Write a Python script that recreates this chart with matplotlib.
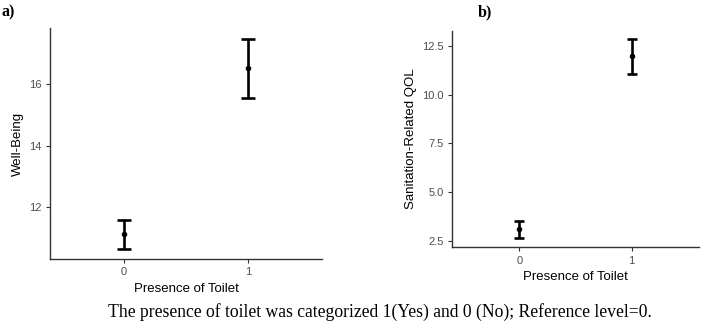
import matplotlib
matplotlib.use("Agg")
import matplotlib.pyplot as plt

categories = ["0", "1"]
wb_mean = [11.13, 16.52]
wb_low = [10.66, 15.55]
wb_high = [11.59, 17.47]
qol_mean = [3.09, 11.97]
qol_low = [2.65, 11.06]
qol_high = [3.53, 12.86]
wb_ticks = [12, 14, 16]
qol_ticks = [2.5, 5.0, 7.5, 10.0, 12.5]

fig = plt.figure(figsize=(7.02, 3.31), dpi=100)
sans = ["Liberation Sans", "DejaVu Sans"]
serif = ["Liberation Serif", "DejaVu Serif"]

def panel(rect, mean, low, high, ticks, ylim, ylabel, cap, fmt):
    ax = fig.add_axes(rect)
    x = list(range(len(categories)))
    yerr = [[m - l for m, l in zip(mean, low)], [h - m for m, h in zip(mean, high)]]
    ax.errorbar(x, mean, yerr=yerr, fmt="o", color="black", ms=3,
                elinewidth=1.9, capsize=cap, capthick=1.9)
    ax.set_xlim(-0.6, 1.6)
    ax.set_ylim(*ylim)
    ax.set_xticks(x)
    ax.set_xticklabels(categories, family=sans, fontsize=8, color="#4d4d4d")
    ax.set_yticks(ticks)
    ax.set_yticklabels([fmt.format(t) for t in ticks], family=sans, fontsize=8, color="#4d4d4d")
    for s in ["top", "right"]:
        ax.spines[s].set_visible(False)
    for s in ["left", "bottom"]:
        ax.spines[s].set_color("#333333")
        ax.spines[s].set_linewidth(1.0)
    ax.tick_params(length=3, width=0.8, color="#333333", pad=3)
    ax.set_xlabel("Presence of Toilet", family=sans, fontsize=9.5, labelpad=4)
    ax.set_ylabel(ylabel, family=sans, fontsize=9.5, labelpad=4)
    return ax

panel([0.0712, 0.2175, 0.3875, 0.698], wb_mean, wb_low, wb_high, wb_ticks,
      (10.32, 17.82), "Well-Being", 4.7, "{:g}")
panel([0.6439, 0.2529, 0.3519, 0.6544], qol_mean, qol_low, qol_high, qol_ticks,
      (2.16, 13.29), "Sanitation-Related QOL", 3.8, "{:.1f}")

fig.text(2 / 702, 1 - 12 / 331, "a)", family=serif, fontweight="bold", fontsize=11.5,
         va="center", ha="left")
fig.text(478 / 702, 1 - 12 / 331, "b)", family=serif, fontweight="bold", fontsize=11.5,
         va="center", ha="left")
fig.text(380 / 702, 1 - 312 / 331,
         "The presence of toilet was categorized 1(Yes) and 0 (No); Reference level=0.",
         family=serif, fontsize=12.7, va="center", ha="center")

fig.savefig("out.png", dpi=100)
